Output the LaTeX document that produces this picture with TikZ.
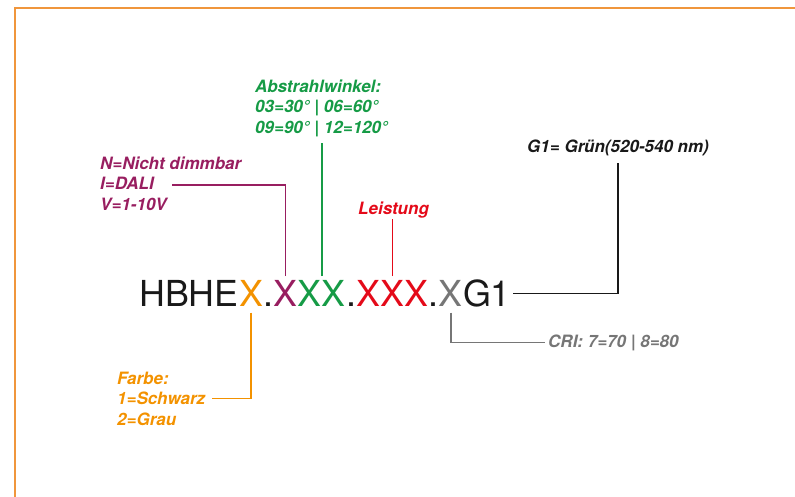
\documentclass[tikz,border=0pt]{standalone}
\usepackage{fontspec}
\setmainfont{TeX Gyre Heros}
\usetikzlibrary{positioning}

\definecolor{cOrange}{RGB}{243,146,0}
\definecolor{cFrame}{RGB}{240,150,60}
\definecolor{cPurple}{RGB}{152,30,96}
\definecolor{cGreen}{RGB}{22,155,70}
\definecolor{cRed}{RGB}{228,10,25}
\definecolor{cGray}{RGB}{118,118,118}
\definecolor{cBlack}{RGB}{25,25,25}

\tikzset{
    code/.style={anchor=base west, inner sep=0pt, font=\fontsize{35.8}{40}\selectfont},
    lbl/.style={anchor=base west, inner sep=0pt, align=left, font=\fontsize{17}{20.3}\selectfont\bfseries\itshape},
    leader/.style={line width=1.4pt}
}

\begin{document}
\begin{tikzpicture}[x=1pt, y=-1pt]
        \useasboundingbox (0,0) rectangle (795,496);
        \draw[cFrame, line width=1.5pt] (15,500) -- (15,8) -- (800,8);

        \node[code, text=cBlack] (pre) at (139,306.5) {HBHE};
        \node[code, text=cOrange] (xo) at (pre.base east) {X};
        \node[code, text=cBlack] (d1) at (xo.base east) {.};
        \node[code, text=cPurple] (xp) at (d1.base east) {X};
        \node[code, text=cGreen] (xg) at (xp.base east) {XX};
        \node[code, text=cBlack] (d2) at (xg.base east) {.};
        \node[code, text=cRed] (xr) at (d2.base east) {XXX};
        \node[code, text=cBlack] (d3) at (xr.base east) {.};
        \node[code, text=cGray] (xy) at (d3.base east) {X};
        \node[code, text=cBlack] (g1) at (xy.base east) {G1};

        \node[lbl, text=cGreen] (winkel) at (255,133) {Abstrahlwinkel:\\03=30° | 06=60°\\09=90° | 12=120°};
        \node[lbl, text=cPurple] (dimm) at (100,210) {N=Nicht dimmbar\\I=DALI\\V=1-10V};
        \node[lbl, text=cRed] (leistung) at (358,214) {Leistung};
        \node[lbl, text=cBlack] (gruen) at (527,152) {G1= Grün(520-540 nm)};
        \node[lbl, text=cGray] (cri) at (548,347) {CRI: 7=70 | 8=80};
        \node[lbl, text=cOrange] (farbe) at (117,425) {Farbe:\\1=Schwarz\\2=Grau};
        \coordinate (dali) at (172,185);

        \draw[leader, cOrange, shorten <=6pt] (xo.south) |- ([xshift=7pt]farbe.east);
        \draw[leader, cPurple, shorten <=4pt] (xp.north) |- (dali);
        \draw[leader, cGreen, shorten <=4pt, shorten >=6pt] (xg.north) -- (xg.north |- winkel.south);
        \draw[leader, cRed, shorten <=4pt, shorten >=1pt] (xr.north) -- (xr.north |- leistung.south);
        \draw[leader, cGray, shorten <=6pt] (xy.south) |- ([xshift=-3pt]cri.west);
        \draw[leader, cBlack, shorten <=2pt, shorten >=7pt] (g1.east) -| (gruen.south);
\end{tikzpicture}
\end{document}
